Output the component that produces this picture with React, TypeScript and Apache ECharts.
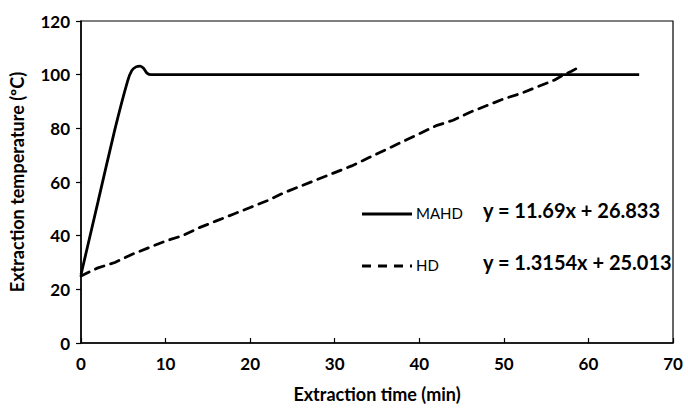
import React, { useEffect, useRef } from "react";
import * as echarts from "echarts";

const mahdTime = [0, 2, 4, 5.5, 6.0, 6.5, 7.0, 7.4, 7.8, 8.3, 9, 10, 20, 30, 40, 50, 60, 66];
const mahdTemp = [25.5, 52.5, 79.5, 97.5, 101.5, 102.9, 103.2, 102.4, 100.6, 100, 100, 100, 100, 100, 100, 100, 100, 100];

const hdTime = [0, 2, 4, 6, 8, 10, 12, 14, 16, 18, 20, 22, 24, 26, 28, 30, 32, 34, 36, 38, 40, 42, 44, 46, 48, 50, 52, 54, 56, 57, 58, 59];
const hdTemp = [25, 28, 30, 33, 35.5, 38, 40, 43, 45.5, 48, 50.5, 53, 56, 58.5, 61, 63.5, 66, 69, 72, 75, 78, 81, 83, 86, 88.5, 91, 93, 95.5, 98, 99.8, 101.3, 103];

const xTicks = [0, 10, 20, 30, 40, 50, 60, 70];
const yTicks = [0, 20, 40, 60, 80, 100, 120];

const legendNames = ["MAHD", "HD"];
const equations = ["y = 11.69x + 26.833", "y = 1.3154x + 25.013"];

const FONT = "Lato";

export default function App() {
  const ref = useRef<HTMLDivElement>(null);
  useEffect(() => {
    if (!ref.current) return;
    const chart = echarts.init(ref.current, undefined, { renderer: "svg" });
    const mahd = mahdTime.map((t, i) => [t, mahdTemp[i]]);
    const hd = hdTime.map((t, i) => [t, hdTemp[i]]);
    const legendY = [214, 266];
    chart.setOption({
      animation: false,
      backgroundColor: "#ffffff",
      grid: {
        left: 81,
        right: 15,
        top: 21,
        bottom: 62,
        show: true,
        borderColor: "#000",
        borderWidth: 1.2,
        backgroundColor: "transparent",
      },
      xAxis: {
        type: "value",
        min: xTicks[0],
        max: xTicks[xTicks.length - 1],
        interval: 10,
        name: "Extraction time (min)",
        nameLocation: "middle",
        nameGap: 42,
        nameTextStyle: { fontFamily: FONT, fontWeight: "bold", fontSize: 18, color: "#000" },
        axisLine: { lineStyle: { color: "#000", width: 1.5 } },
        axisTick: { inside: true, length: 5, lineStyle: { color: "#000", width: 1.2 } },
        axisLabel: { fontFamily: FONT, fontWeight: "bold", fontSize: 17, color: "#000", margin: 12 },
        splitLine: { show: false },
      },
      yAxis: {
        type: "value",
        min: yTicks[0],
        max: yTicks[yTicks.length - 1],
        interval: 20,
        name: "Extraction temperature (ºC)",
        nameLocation: "middle",
        nameGap: 55,
        nameRotate: 90,
        nameTextStyle: { fontFamily: FONT, fontWeight: "bold", fontSize: 18, color: "#000" },
        axisLine: { show: true, lineStyle: { color: "#000", width: 1.5 } },
        axisTick: { show: true, inside: false, length: 5, lineStyle: { color: "#000", width: 1.2 } },
        axisLabel: { fontFamily: FONT, fontWeight: "bold", fontSize: 17, color: "#000", margin: 11 },
        splitLine: { show: false },
      },
      series: [
        {
          name: "MAHD",
          type: "line",
          data: mahd,
          smooth: 0.25,
          showSymbol: false,
          lineStyle: { color: "#000", width: 2.8 },
          z: 3,
        },
        {
          name: "HD",
          type: "line",
          data: hd,
          showSymbol: false,
          lineStyle: { color: "#000", width: 2.8, type: [9, 7], cap: "round" },
          z: 2,
        },
      ],
      graphic: [
        {
          type: "line",
          shape: { x1: 362, y1: legendY[0], x2: 412, y2: legendY[0] },
          style: { stroke: "#000", lineWidth: 2.8 },
        },
        {
          type: "line",
          shape: { x1: 362, y1: legendY[1], x2: 412, y2: legendY[1] },
          style: { stroke: "#000", lineWidth: 2.8, lineDash: [9, 7] },
        },
        ...legendNames.map((n, i) => ({
          type: "text",
          left: 416,
          top: legendY[i] - 9,
          style: { text: n, font: `15px ${FONT}`, fill: "#000" },
        })),
        ...equations.map((e, i) => ({
          type: "text",
          left: 483,
          top: legendY[i] - 14,
          style: { text: e, font: `bold 20px ${FONT}`, fill: "#000" },
        })),
      ],
    });
    return () => chart.dispose();
  }, []);
  return <div ref={ref} style={{ width: 688, height: 408, position: "absolute", left: 0, top: 0 }} />;
}
